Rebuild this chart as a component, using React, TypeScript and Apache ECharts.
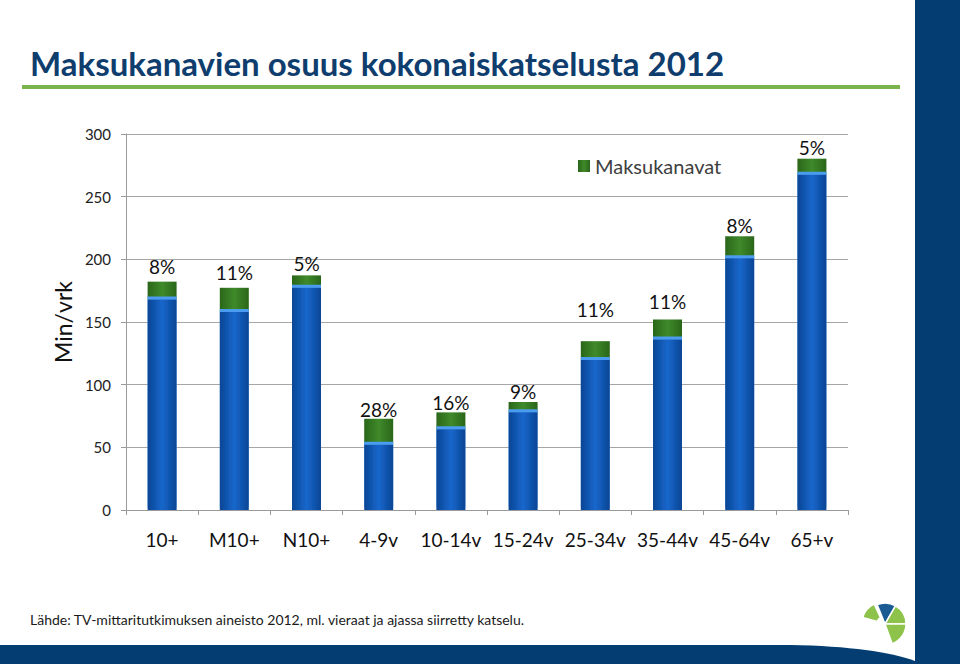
import React, { useEffect, useRef } from "react";
import * as echarts from "echarts";

const categories = ["10+", "M10+", "N10+", "4-9v", "10-14v", "15-24v", "25-34v", "35-44v", "45-64v", "65+v"];
const muutKanavat = [168, 158, 177.3, 52, 64.5, 78, 119.7, 136, 200.8, 267.5];
const maksukanavat = [14.2, 19.3, 9.9, 20.8, 13.4, 8.1, 15, 16, 17.6, 12.8];
const osuusLabels = ["8%", "11%", "5%", "28%", "16%", "9%", "11%", "11%", "8%", "5%"];
const yMin = 0;
const yMax = 300;
const yInterval = 50;

// label nudges (px, upward) to mimic the original placement
const labelLift = [5, 5, 1, -1, -1, 0, 21, 7, 0, 1];

const FONT = "Lato, 'Open Sans', sans-serif";

export default function App() {
  const ref = useRef<HTMLDivElement>(null);

  useEffect(() => {
    document.body.style.margin = "0";
    if (!ref.current) return;
    echarts.graphic.registerShape(
      "bottomBand",
      echarts.graphic.extendPath(
        "M0 645 L790 645 C850 646 890 652 915 661 L915 664 L0 664 Z",
        {}
      )
    );
    const chart = echarts.init(ref.current, null, { renderer: "svg" });

    const blueGrad = new echarts.graphic.LinearGradient(0, 0, 1, 0, [
      { offset: 0, color: "#0A4594" },
      { offset: 0.5, color: "#1767CC" },
      { offset: 1, color: "#0A4594" },
    ]);
    const greenGrad = new echarts.graphic.LinearGradient(0, 0, 1, 0, [
      { offset: 0, color: "#2A6619" },
      { offset: 0.5, color: "#3F8A2A" },
      { offset: 1, color: "#2A6619" },
    ]);

    const cx = 885;
    const cy = 624;
    const deg = (d: number) => (d * Math.PI) / 180;

    chart.setOption({
      animation: false,
      backgroundColor: "#ffffff",
      textStyle: { fontFamily: FONT },
      grid: { left: 126, top: 134, width: 722, height: 376, containLabel: false },
      legend: {
        data: ["Maksukanavat"],
        left: 573,
        top: 151,
        icon: "rect",
        itemWidth: 12,
        itemHeight: 12,
        itemGap: 6,
        textStyle: { fontSize: 20, color: "#404040", fontFamily: FONT },
      },
      xAxis: {
        type: "category",
        data: categories,
        axisLine: { lineStyle: { color: "#9A9A9A", width: 1 } },
        axisTick: { show: true, length: 5, lineStyle: { color: "#9A9A9A" } },
        axisLabel: { interval: 0, fontSize: 19, color: "#111111", margin: 20, fontFamily: FONT },
      },
      yAxis: {
        type: "value",
        min: yMin,
        max: yMax,
        interval: yInterval,
        name: "Min/vrk",
        nameLocation: "middle",
        nameGap: 46,
        nameTextStyle: { fontSize: 23, color: "#111111", fontFamily: FONT },
        axisLine: { show: true, lineStyle: { color: "#9A9A9A", width: 1 } },
        axisTick: { show: true, length: 5, lineStyle: { color: "#9A9A9A" } },
        axisLabel: { fontSize: 15, color: "#222222", margin: 15, fontFamily: FONT },
        splitLine: { lineStyle: { color: "#A6A6A6", width: 1 } },
      },
      series: [
        {
          name: "Muut",
          type: "bar",
          stack: "total",
          barWidth: 29,
          z: 3,
          data: muutKanavat,
          itemStyle: {
            color: blueGrad,
            shadowColor: "#4A9CF0",
            shadowOffsetY: -3,
            shadowBlur: 0,
          },
        },
        {
          name: "Maksukanavat",
          type: "bar",
          stack: "total",
          barWidth: 29,
          z: 2,
          data: maksukanavat.map((v, i) => ({
            value: v,
            label: { offset: [0, -labelLift[i]] },
          })),
          itemStyle: { color: greenGrad },
          label: {
            show: true,
            position: "top",
            distance: 1,
            fontSize: 19,
            color: "#111111",
            fontFamily: FONT,
            formatter: (p: any) => osuusLabels[p.dataIndex],
          },
        },
      ],
      graphic: [
        {
          type: "text",
          left: 30,
          top: 46,
          style: {
            text: "Maksukanavien osuus kokonaiskatselusta 2012",
            fontSize: 33,
            fontWeight: "bold",
            fontFamily: FONT,
            fill: "#0E3D6E",
          },
        },
        {
          type: "rect",
          shape: { x: 22, y: 85, width: 878, height: 4 },
          style: { fill: "#7BB34D" },
        },
        {
          type: "rect",
          shape: { x: 915, y: 0, width: 45, height: 664 },
          style: { fill: "#033D72" },
        },
        {
          type: "bottomBand",
          x: 0,
          y: 0,
          style: { fill: "#033D72" },
        },
        {
          type: "text",
          left: 30,
          top: 612,
          style: {
            text: "Lähde: TV-mittaritutkimuksen aineisto 2012, ml. vieraat ja ajassa siirretty katselu.",
            fontSize: 14,
            fontFamily: FONT,
            fill: "#1A1A1A",
          },
        },
        {
          type: "sector",
          shape: { cx: cx - 2, cy: cy - 1, r: 21, r0: 6, startAngle: deg(195), endAngle: deg(245) },
          style: { fill: "#8DC34A", stroke: "#ffffff", lineWidth: 1.5 },
        },
        {
          type: "sector",
          shape: { cx, cy, r: 21, r0: 0, startAngle: deg(248), endAngle: deg(300) },
          style: { fill: "#1A5B93", stroke: "#ffffff", lineWidth: 1.5 },
        },
        {
          type: "sector",
          shape: { cx, cy, r: 21, r0: 0, startAngle: deg(300), endAngle: deg(360) },
          style: { fill: "#8DC34A", stroke: "#ffffff", lineWidth: 1.5 },
        },
        {
          type: "sector",
          shape: { cx, cy, r: 21, r0: 0, startAngle: deg(0), endAngle: deg(70) },
          style: { fill: "#8DC34A", stroke: "#ffffff", lineWidth: 1.5 },
        },
      ],
    });

    return () => chart.dispose();
  }, []);

  return <div ref={ref} style={{ width: 960, height: 664 }} />;
}
